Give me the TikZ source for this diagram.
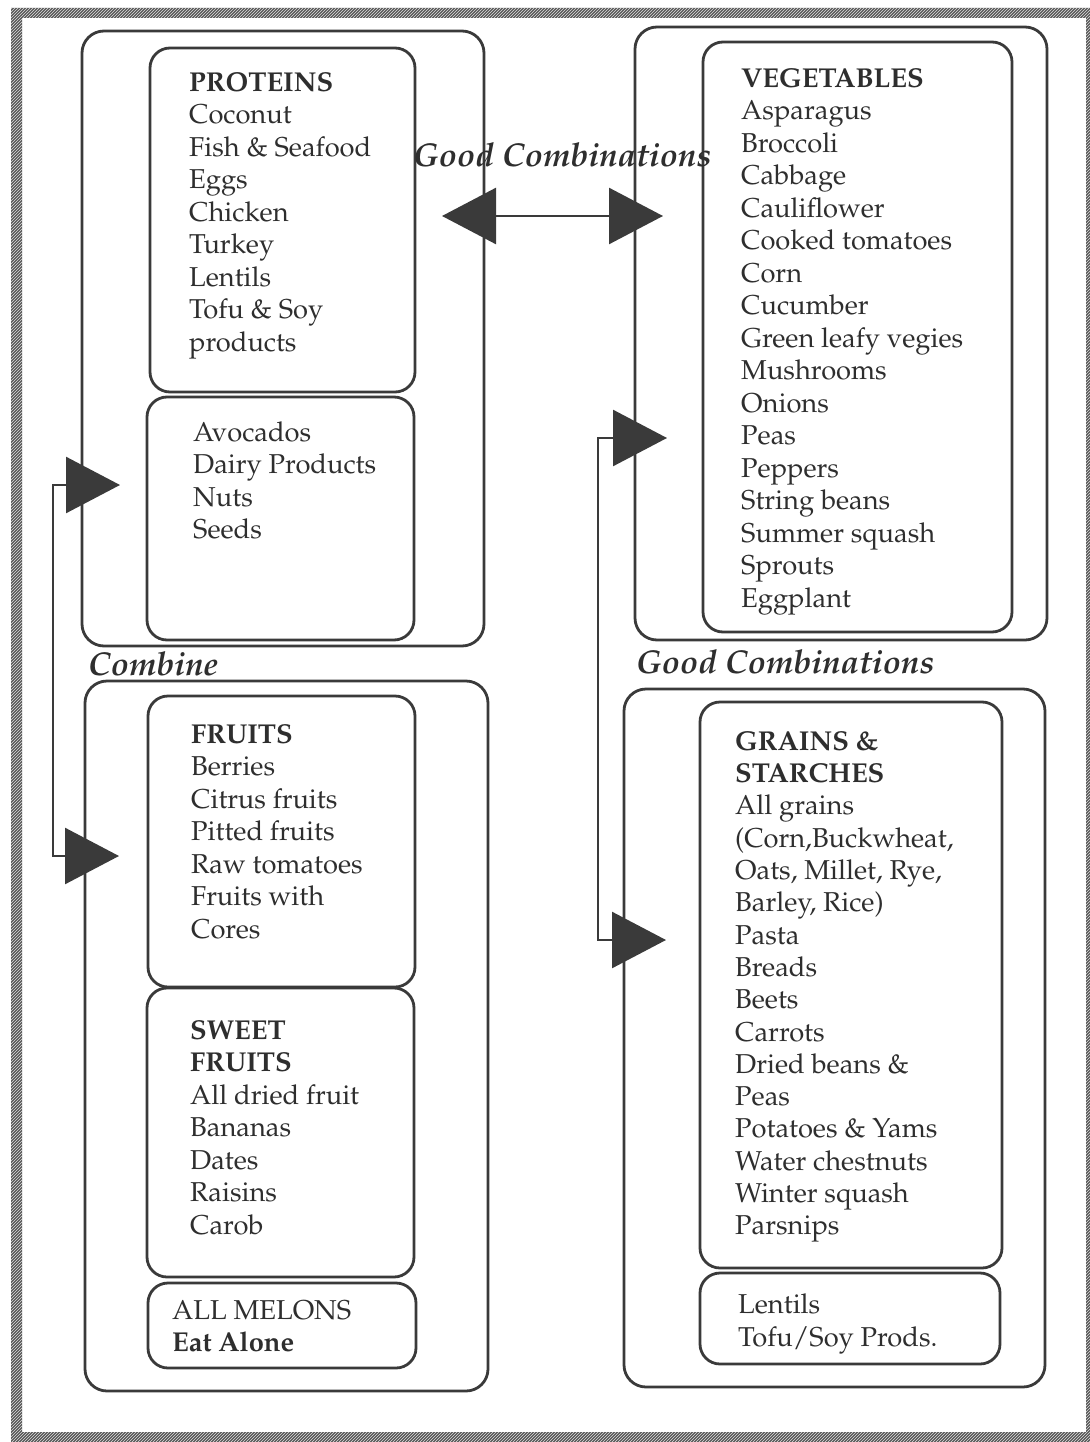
\documentclass[tikz,border=0pt]{standalone}
\usepackage[T1]{fontenc}
\usepackage{mathpazo}
\usetikzlibrary{arrows.meta,patterns}

\definecolor{linecol}{HTML}{3A3A3A}
\definecolor{txtcol}{HTML}{2E2E2E}
\newcommand\foodfont{\fontsize{27.3}{32.5}\selectfont}
\newcommand\tagfont{\fontsize{33}{36}\selectfont\bfseries\itshape}

\tikzset{
  grp/.style={draw=linecol, line width=2.8pt, rounded corners=22pt,
    anchor=north west, inner sep=0pt, outer sep=0pt},
  cell/.style={grp, rounded corners=20pt},
  lst/.style={anchor=north west, align=left, inner sep=0pt, font=\foodfont, text=txtcol},
  tag/.style={anchor=base west, inner sep=0pt, font=\tagfont, text=txtcol},
  link/.style={draw=linecol, line width=2.6pt, <->,
    >={Triangle[length=54pt,width=56pt]}}
}

\begin{document}
\begin{tikzpicture}[x=1pt,y=-1pt]
\useasboundingbox (0,0) rectangle (1089,1442);

% hatched frame
\fill[black!66, even odd rule] (11,8) rectangle (1095,1452) (22,18) rectangle (1086,1432);
\fill[pattern=north east lines, pattern color=white!75!gray, even odd rule]
  (11,8) rectangle (1095,1452) (22,18) rectangle (1086,1432);

% left column
\node[grp, minimum width=402pt, minimum height=615pt] (protgrp) at (82,31) {};
\node[cell, minimum width=265pt, minimum height=344pt] (protbox) at (150,48) {};
\node[cell, minimum width=267pt, minimum height=243pt] (nutbox) at (147,397) {};
\node[grp, minimum width=403pt, minimum height=710pt] (fruitgrp) at (85,681) {};
\node[cell, minimum width=267pt, minimum height=291pt] (fruitbox) at (148,696) {};
\node[cell, minimum width=267pt, minimum height=289pt] (sweetbox) at (147,988) {};
\node[cell, minimum width=268pt, minimum height=85pt] (melonbox) at (148,1283) {};

% right column
\node[grp, minimum width=412pt, minimum height=613pt] (veggrp) at (635,27) {};
\node[cell, minimum width=309pt, minimum height=590pt] (vegbox) at (703,42) {};
\node[grp, minimum width=421pt, minimum height=698pt] (graingrp) at (624,689) {};
\node[cell, minimum width=302pt, minimum height=566pt] (grainbox) at (700,702) {};
\node[cell, minimum width=300pt, minimum height=91pt] (lentilbox) at (700,1273) {};

% lists
\node[lst] (prottxt) at (189,72) {\textbf{PROTEINS}\\Coconut\\Fish \& Seafood\\Eggs\\Chicken\\Turkey\\Lentils\\Tofu \& Soy\\products};
\node[lst] (nuttxt) at (193,421.5) {Avocados\\Dairy Products\\Nuts\\Seeds};
\node[lst] (fruittxt) at (191,724) {\textbf{FRUITS}\\Berries\\Citrus fruits\\Pitted fruits\\Raw tomatoes\\Fruits with\\Cores};
\node[lst] (sweettxt) at (190,1020) {\textbf{SWEET}\\\textbf{FRUITS}\\All dried fruit\\Bananas\\Dates\\Raisins\\Carob};
\node[lst] (melontxt) at (172,1300) {ALL MELONS\\\textbf{Eat Alone}};
\node[lst] (vegtxt) at (741,68) {\textbf{VEGETABLES}\\Asparagus\\Broccoli\\Cabbage\\Cauliflower\\Cooked tomatoes\\Corn\\Cucumber\\Green leafy vegies\\Mushrooms\\Onions\\Peas\\Peppers\\String beans\\Summer squash\\Sprouts\\Eggplant};
\node[lst, font=\fontsize{27.3}{32.3}\selectfont] (graintxt) at (735,731) {\textbf{GRAINS \&}\\\textbf{STARCHES}\\All grains\\(Corn,Buckwheat,\\Oats, Millet, Rye,\\Barley, Rice)\\Pasta\\Breads\\Beets\\Carrots\\Dried beans \&\\Peas\\Potatoes \& Yams\\Water chestnuts\\Winter squash\\Parsnips};
\node[lst] (lentiltxt) at (738,1294) {Lentils\\Tofu/Soy Prods.};

% labels
\node[tag] (goodtop) at (413,167) {Good Combinations};
\node[tag] (combine) at (88,675) {Combine};
\node[tag] (goodlow) at (636,673) {Good Combinations};

% connectors
\coordinate (pairL) at (442,216);
\coordinate (pairR) at (663,216);
\coordinate (combA) at (120,485);
\coordinate (combB) at (119,856);
\coordinate (goodA) at (667,438);
\coordinate (goodB) at (666,940);
\draw[link] (pairL) -- (pairR);
\draw[link] (combA) -- ++(-67,0) |- (combB);
\draw[link] (goodA) -- ++(-69,0) |- (goodB);
\end{tikzpicture}
\end{document}
